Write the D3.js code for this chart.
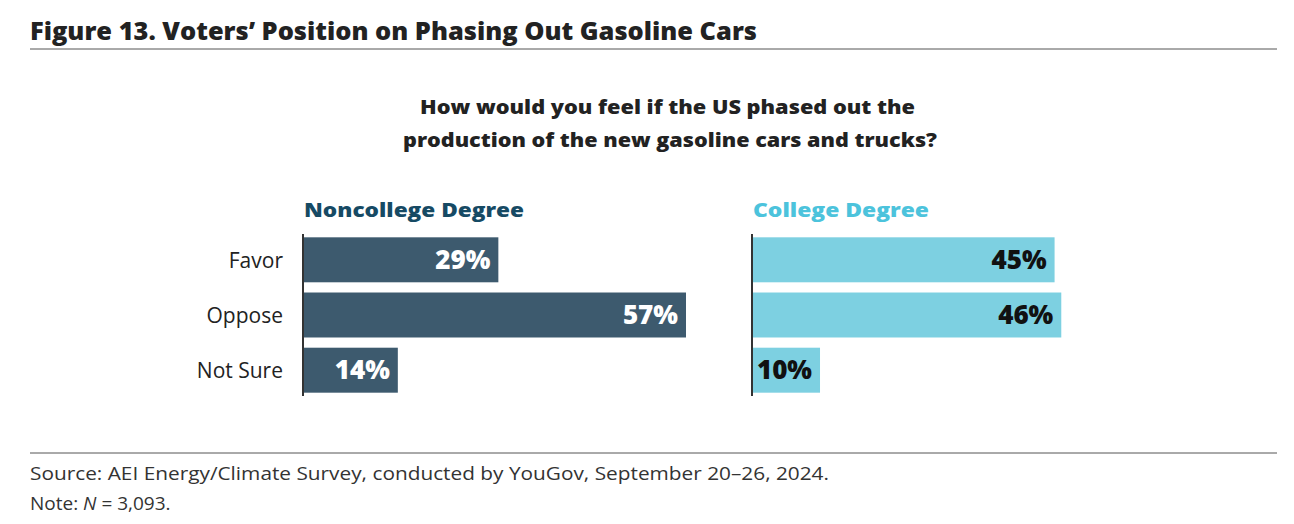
<!DOCTYPE html>
<html><head><meta charset="utf-8">
<script src="https://cdn.jsdelivr.net/npm/d3@7"></script>
<style>body{margin:0;background:#fff;font-family:"Open Sans",Lato,sans-serif;}</style>
</head><body><svg width="1294" height="524"></svg>
<script>
var cats = ["Favor","Oppose","Not Sure"];
var noncollege = [29,57,14];
var college = [45,46,10];
var groups = ["Noncollege Degree","College Degree"];

var svg = d3.select("svg");
svg.append("text").attr("x",30).attr("y",40).attr("font-size",24).attr("font-weight",800)
.attr("fill","#222").attr("textLength",727).attr("lengthAdjust","spacingAndGlyphs")
.text("Figure 13. Voters’ Position on Phasing Out Gasoline Cars");
svg.append("line").attr("x1",30).attr("x2",1277).attr("y1",49).attr("y2",49).attr("stroke","#555");
svg.append("text").attr("x",420).attr("y",114).attr("font-size",20)
.attr("font-weight",800).attr("fill","#222").attr("textLength",495).attr("lengthAdjust","spacingAndGlyphs")
.text("How would you feel if the US phased out the");
svg.append("text").attr("x",403).attr("y",147).attr("font-size",20)
.attr("font-weight",800).attr("fill","#222").attr("textLength",534).attr("lengthAdjust","spacingAndGlyphs")
.text("production of the new gasoline cars and trucks?");

var x = d3.scaleLinear().domain([0,57]).range([0,382]);
var y = d3.scaleBand().domain(cats).range([234,396]).paddingInner(0.185).paddingOuter(0.06);

var panels = [
  {x0:304, vals:noncollege, fill:"#3d5a6e", head:"#164a64", txt:"#fff", name:groups[0], w:220},
  {x0:753, vals:college, fill:"#7dd0e1", head:"#4cc3dc", txt:"#111", name:groups[1], w:176}
];
panels.forEach(function(p){
  var g = svg.append("g").attr("transform","translate("+p.x0+",0)");
  g.append("text").attr("x",0).attr("y",217).attr("font-size",20).attr("font-weight",800)
  .attr("fill",p.head).attr("textLength",p.w).attr("lengthAdjust","spacingAndGlyphs").text(p.name);
  g.selectAll(".bar").data(p.vals).enter().append("rect")
  .attr("x",0).attr("y",function(d,i){return y(cats[i]);})
  .attr("width",function(d){return x(d);}).attr("height",y.bandwidth()).attr("fill",p.fill);
  g.selectAll(".lab").data(p.vals).enter().append("text")
  .attr("x",function(d){return x(d)-8;}).attr("y",function(d,i){return y(cats[i])+y.bandwidth()/2+9;})
  .attr("text-anchor","end").attr("font-size",26).attr("font-weight",800).attr("fill",p.txt)
  .text(function(d){return d+"%";});
  g.append("line").attr("x1",-1).attr("x2",-1).attr("y1",234).attr("y2",396).attr("stroke","#333").attr("stroke-width",2);
});
svg.selectAll(".cat").data(cats).enter().append("text")
.attr("x",283).attr("y",function(d){return y(d)+y.bandwidth()/2+8;})
.attr("text-anchor","end").attr("font-size",21).attr("fill","#222").text(function(d){return d;});

svg.append("line").attr("x1",30).attr("x2",1277).attr("y1",453).attr("y2",453).attr("stroke","#555");
svg.append("text").attr("x",30).attr("y",480).attr("font-size",19).attr("fill","#333")
.attr("textLength",799).attr("lengthAdjust","spacingAndGlyphs")
.text("Source: AEI Energy/Climate Survey, conducted by YouGov, September 20–26, 2024.");
var n = svg.append("text").attr("x",30).attr("y",510).attr("font-size",19).attr("fill","#333");
n.append("tspan").text("Note: ");
n.append("tspan").attr("font-style","italic").text("N");
n.append("tspan").text(" = 3,093.");
</script></body></html>
